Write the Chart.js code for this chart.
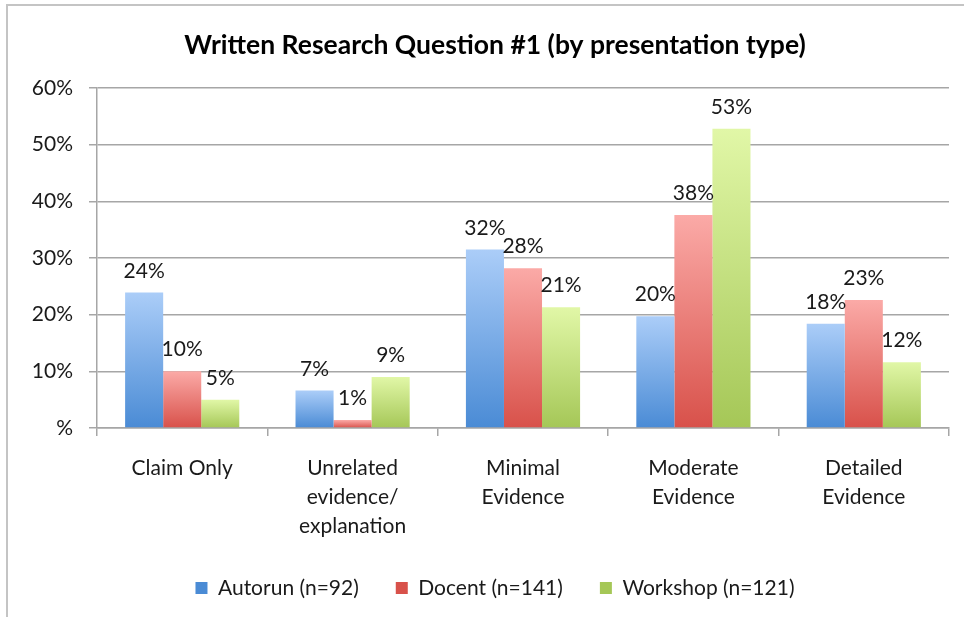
<!DOCTYPE html>
<html>
<head>
<meta charset="utf-8">
<script src="https://cdn.jsdelivr.net/npm/chart.js@4.4.1/dist/chart.umd.min.js"></script>
<style>
  html, body { margin: 0; padding: 0; background: #ffffff; }
  #wrap { position: relative; width: 964px; height: 617px; overflow: hidden; }
  #frame { position: absolute; left: 6px; top: 4px; width: 970px; height: 630px;
           border-left: 2px solid #c4c4c4; border-top: 2px solid #c4c4c4; box-sizing: border-box; }
  canvas { position: absolute; left: 0; top: 0; }
</style>
</head>
<body>
<div id="wrap">
  <div id="frame"></div>
  <canvas id="c" width="964" height="617"></canvas>
</div>
<script>
// ---- data ----
const categories = [
  ['Claim Only'],
  ['Unrelated', 'evidence/', 'explanation'],
  ['Minimal', 'Evidence'],
  ['Moderate', 'Evidence'],
  ['Detailed', 'Evidence']
];
const seriesNames = ['Autorun (n=92)', 'Docent (n=141)', 'Workshop (n=121)'];
const autorun  = [23.9, 6.6, 31.5, 19.7, 18.4];
const docent   = [10.0, 1.4, 28.2, 37.6, 22.6];
const workshop = [5.0, 9.0, 21.3, 52.8, 11.6];
const yTicks = [0, 10, 20, 30, 40, 50, 60];

const FONT = 'Lato, "Open Sans", sans-serif';

// gradient colours [top, bottom, mid]
const palettes = [
  ['#abcdf8', '#4a8bd5', '#7aaae6'],
  ['#fbaaa7', '#d8514a', '#ea7d77'],
  ['#e1f7a7', '#a5c757', '#c2df7c']
];

function barGradient(pi) {
  return function (ctx) {
    const chart = ctx.chart;
    const pal = palettes[pi];
    if (ctx.dataIndex === undefined || !chart.chartArea || !chart.scales.y) return pal[2];
    const v = ctx.dataset.data[ctx.dataIndex];
    const yTop = chart.scales.y.getPixelForValue(v);
    const yBot = chart.scales.y.getPixelForValue(0);
    if (!isFinite(yTop) || !isFinite(yBot) || yTop === yBot) return pal[2];
    const g = chart.ctx.createLinearGradient(0, yTop, 0, yBot);
    g.addColorStop(0, pal[0]);
    g.addColorStop(1, pal[1]);
    return g;
  };
}

const valueLabels = {
  id: 'valueLabels',
  afterDatasetsDraw(chart) {
    const ctx = chart.ctx;
    ctx.save();
    ctx.font = '21px ' + FONT;
    ctx.fillStyle = '#1a1a1a';
    ctx.textAlign = 'center';
    ctx.textBaseline = 'alphabetic';
    chart.data.datasets.forEach((ds, di) => {
      const meta = chart.getDatasetMeta(di);
      meta.data.forEach((bar, i) => {
        const txt = Math.round(ds.data[i]) + '%';
        ctx.fillText(txt, bar.x, bar.y - 15);
      });
    });
    ctx.restore();
  }
};

const datasets = [autorun, docent, workshop].map((arr, i) => ({
  label: seriesNames[i],
  data: arr,
  backgroundColor: barGradient(i),
  borderWidth: 0,
  categoryPercentage: 0.67,
  barPercentage: 1.0
}));

new Chart(document.getElementById('c'), {
  type: 'bar',
  data: { labels: categories, datasets },
  plugins: [valueLabels],
  options: {
    responsive: false,
    animation: false,
    layout: { padding: { left: 30, right: 4, top: 0, bottom: 8.5 } },
    plugins: {
      title: {
        display: true,
        text: 'Written Research Question #1 (by presentation type)',
        color: '#000',
        font: { family: FONT, size: 26.5, weight: 'bold' },
        padding: { top: 29.1, bottom: 27.1 }
      },
      legend: {
        position: 'bottom',
        labels: {
          color: '#1a1a1a',
          font: { family: FONT, size: 21 },
          boxWidth: 12,
          boxHeight: 12,
          padding: 37
        }
      },
      tooltip: { enabled: false }
    },
    scales: {
      x: {
        afterFit(scale) { scale.height = 112.5; },
        grid: { display: true, drawOnChartArea: false, color: '#a6a6a6', lineWidth: 1.5, tickLength: 8, offset: true },
        border: { color: '#a6a6a6', width: 1.5 },
        ticks: {
          color: '#1a1a1a',
          font: { family: FONT, size: 21, lineHeight: 1.38 },
          padding: 17.5,
          maxRotation: 0,
          autoSkip: false
        }
      },
      y: {
        min: 0, max: 60,
        afterFit(scale) { scale.width = 67; },
        afterBuildTicks(scale) { scale.ticks = yTicks.map(v => ({ value: v })); },
        grid: { color: '#a6a6a6', lineWidth: 1.5, tickLength: 8 },
        border: { color: '#a6a6a6', width: 1.5 },
        ticks: {
          color: '#1a1a1a',
          font: { family: FONT, size: 21 },
          padding: 16,
          callback: v => (v === 0 ? '%' : v + '%')
        }
      },
      spacer: {
        type: 'linear',
        position: 'right',
        min: 0, max: 1,
        afterFit(scale) { scale.width = 11; },
        grid: { display: false },
        border: { display: false },
        ticks: { display: false }
      }
    }
  }
});
</script>
</body>
</html>
